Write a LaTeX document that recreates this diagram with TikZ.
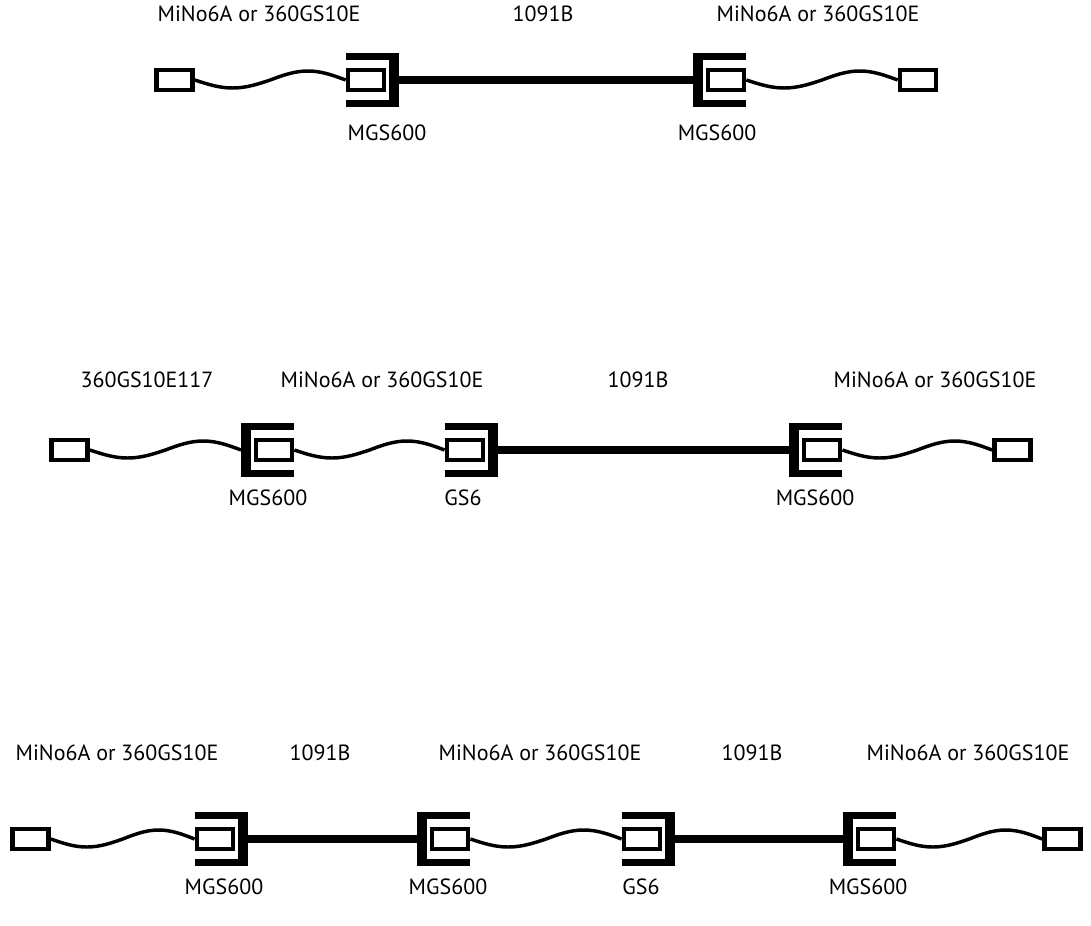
\documentclass[tikz,border=0pt]{standalone}
\usepackage{fontspec}
\setmainfont{PT Sans}
\usetikzlibrary{calc}

\tikzset{
	socket/.style={draw, line width=3.6pt, minimum width=27pt, minimum height=15pt, inner sep=0pt},
	wire/.style={line width=2.6pt},
	trunk/.style={line width=6pt},
	lbl/.style={font=\fontsize{16.5}{20}\selectfont, inner sep=0pt},
	plugL/.pic={
		\fill (-53,-27) rectangle (0,-20);
		\fill (-53,20) rectangle (0,27);
		\fill (-10,-27) rectangle (0,27);
		\node[socket] (-in) at (-33,0) {};
		\coordinate (-back) at (0,0);
	},
	plugR/.pic={
		\fill (0,-27) rectangle (53,-20);
		\fill (0,20) rectangle (53,27);
		\fill (0,-27) rectangle (10,27);
		\node[socket] (-in) at (33,0) {};
		\coordinate (-back) at (0,0);
	}
}
\newcommand\wave[2]{\draw[wire] (#1) sin ($(#1)!.25!(#2)+(0,8)$) cos ($(#1)!.5!(#2)$) sin ($(#1)!.75!(#2)+(0,-9)$) cos (#2);}

\begin{document}
\begin{tikzpicture}[x=0.75pt, y=-0.75pt]
	\useasboundingbox (0,0) rectangle (1091,925);

	% first line
	\node[socket] (e1) at (174.5,80) {};
	\pic (ma) at (399,80) {plugL};
	\pic (mb) at (693,80) {plugR};
	\node[socket] (e2) at (918,80) {};
	\wave{e1.east}{ma-in.west}
	\draw[trunk] (ma-back) -- (mb-back);
	\wave{mb-in.east}{e2.west}
	\node[lbl] (ta) at (259,14) {MiNo6A or 360GS10E};
	\node[lbl] (tb) at (543,14) {1091B};
	\node[lbl] (tc) at (818,14) {MiNo6A or 360GS10E};
	\node[lbl] (ba) at (387,133) {MGS600};
	\node[lbl] (bb) at (717,133) {MGS600};

	% second line
	\node[socket] (e3) at (69.5,450) {};
	\pic (p1) at (241,450) {plugR};
	\pic (g1) at (498,450) {plugL};
	\pic (p2) at (789,450) {plugR};
	\node[socket] (e4) at (1012.5,450) {};
	\wave{e3.east}{p1-back}
	\wave{p1-in.east}{g1-in.west}
	\draw[trunk] (g1-back) -- (p2-back);
	\wave{p2-in.east}{e4.west}
	\node[lbl] (td) at (147,380) {360GS10E117};
	\node[lbl] (te) at (382,380) {MiNo6A or 360GS10E};
	\node[lbl] (tf) at (638,380) {1091B};
	\node[lbl] (tg) at (935,380) {MiNo6A or 360GS10E};
	\node[lbl] (bc) at (268,498) {MGS600};
	\node[lbl] (bd) at (463,498) {GS6};
	\node[lbl] (be) at (815,498) {MGS600};

	% third line
	\node[socket] (e5) at (30.5,839) {};
	\pic (q1) at (248,839) {plugL};
	\pic (q2) at (417,839) {plugR};
	\pic (g2) at (675,839) {plugL};
	\pic (q3) at (843,839) {plugR};
	\node[socket] (e6) at (1062.5,839) {};
	\wave{e5.east}{q1-in.west}
	\draw[trunk] (q1-back) -- (q2-back);
	\wave{q2-in.east}{g2-in.west}
	\draw[trunk] (g2-back) -- (q3-back);
	\wave{q3-in.east}{e6.west}
	\node[lbl] (th) at (117,753) {MiNo6A or 360GS10E};
	\node[lbl] (ti) at (320,753) {1091B};
	\node[lbl] (tj) at (540,753) {MiNo6A or 360GS10E};
	\node[lbl] (tk) at (752,753) {1091B};
	\node[lbl] (tl) at (968,753) {MiNo6A or 360GS10E};
	\node[lbl] (bf) at (224,887) {MGS600};
	\node[lbl] (bg) at (448,887) {MGS600};
	\node[lbl] (bh) at (641,887) {GS6};
	\node[lbl] (bi) at (868,887) {MGS600};
\end{tikzpicture}
\end{document}
